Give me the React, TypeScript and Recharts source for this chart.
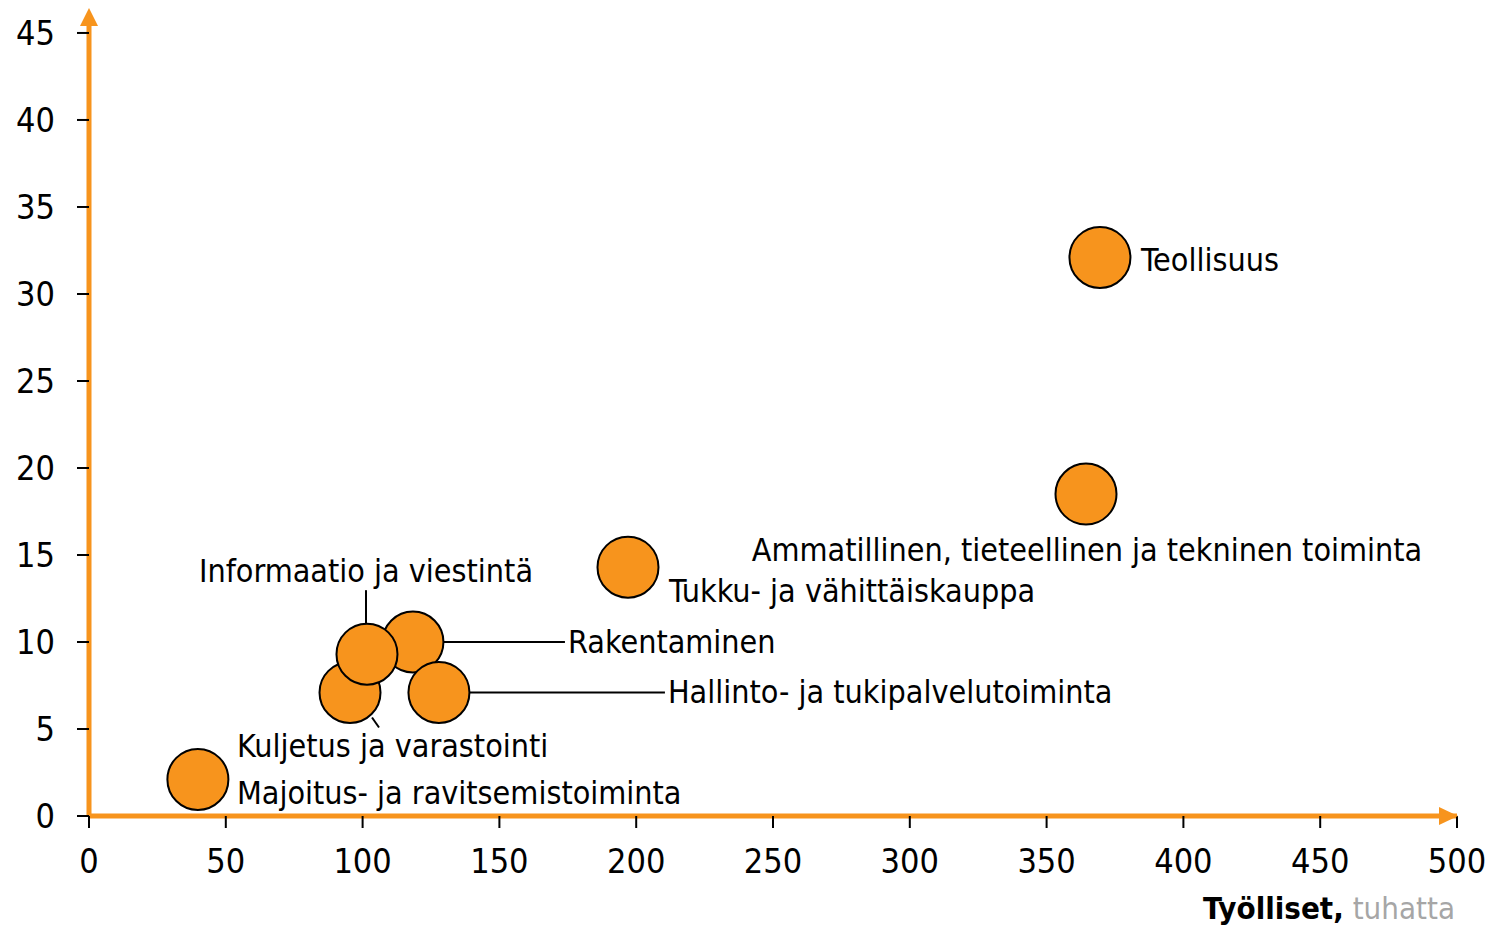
import { ScatterChart, Scatter, XAxis, YAxis, ReferenceDot } from 'recharts';

const FONT = '"DejaVu Sans Condensed", "DejaVu Sans", sans-serif';
const ORANGE = '#F7941D';

// toimialat, piirtojärjestyksessä (päällekkäiset pallot)
const NAMES = [
  'Majoitus- ja ravitsemistoiminta',
  'Kuljetus ja varastointi',
  'Rakentaminen',
  'Hallinto- ja tukipalvelutoiminta',
  'Informaatio ja viestintä',
  'Tukku- ja vähittäiskauppa',
  'Ammatillinen, tieteellinen ja tekninen toiminta',
  'Teollisuus',
];
const EMPLOYED = [39.8, 95.4, 118.4, 127.9, 101.6, 197, 364.4, 369.5];
const SHARE = [2.1, 7.1, 10.0, 7.1, 9.3, 14.3, 18.5, 32.1];

const X_TICKS = [0, 50, 100, 150, 200, 250, 300, 350, 400, 450, 500];
const Y_TICKS = [0, 5, 10, 15, 20, 25, 30, 35, 40, 45];

// label placement relative to bubble centre: dx, dy (baseline), anchor, leader line
type LabelPos = { dx: number; dy: number; anchor: 'start' | 'middle'; line?: [number, number, number, number] };
const LABEL_POS: Record<string, LabelPos> = {
  'Majoitus- ja ravitsemistoiminta': { dx: 39, dy: 25, anchor: 'start' },
  'Kuljetus ja varastointi': { dx: -113, dy: 65, anchor: 'start', line: [22, 25, 29, 35] },
  'Rakentaminen': { dx: 155, dy: 11, anchor: 'start', line: [30, 0, 152, 0] },
  'Hallinto- ja tukipalvelutoiminta': { dx: 229, dy: 11, anchor: 'start', line: [30, 0, 226, 0] },
  'Informaatio ja viestintä': { dx: -1, dy: -72, anchor: 'middle', line: [-1, -30, -1, -64] },
  'Tukku- ja vähittäiskauppa': { dx: 41, dy: 35, anchor: 'start' },
  'Ammatillinen, tieteellinen ja tekninen toiminta': { dx: 1, dy: 67, anchor: 'middle' },
  'Teollisuus': { dx: 41, dy: 14, anchor: 'start' },
};

const data = NAMES.map((name, i) => ({ name, x: EMPLOYED[i], y: SHARE[i] }));

const Bubble = (props: any) => {
  const { cx, cy, payload } = props;
  const pos = LABEL_POS[payload.name];
  return (
    <g>
      {pos.line && (
        <line
          x1={cx + pos.line[0]}
          y1={cy + pos.line[1]}
          x2={cx + pos.line[2]}
          y2={cy + pos.line[3]}
          stroke="#000"
          strokeWidth={2}
        />
      )}
      <circle cx={cx} cy={cy} r={30.5} fill={ORANGE} stroke="#000" strokeWidth={2} />
      <text
        x={cx + pos.dx}
        y={cy + pos.dy}
        textAnchor={pos.anchor}
        fontFamily={FONT}
        fontSize={32}
        fill="#000"
      >
        {payload.name}
      </text>
    </g>
  );
};

const UpArrow = (props: any) => {
  const { cx, cy } = props;
  return <polygon points={`${cx - 9},${cy} ${cx + 9},${cy} ${cx},${cy - 18}`} fill={ORANGE} />;
};

const RightArrow = (props: any) => {
  const { cx, cy } = props;
  return <polygon points={`${cx - 18},${cy - 9} ${cx - 18},${cy + 9} ${cx + 1},${cy}`} fill={ORANGE} />;
};

const AxisTitle = (props: any) => {
  const { viewBox } = props;
  return (
    <text
      x={viewBox.x + viewBox.width - 2}
      y={919}
      textAnchor="end"
      fontFamily={FONT}
      fontSize={31}
    >
      <tspan fontWeight="bold" fill="#000">Työlliset,</tspan>
      <tspan fill="#A6A6A6"> tuhatta</tspan>
    </text>
  );
};

const App = () => {
  return (
    <div style={{ position: 'absolute', left: 0, top: 0, background: '#fff' }}>
      <ScatterChart width={1489} height={926} margin={{ top: 26, right: 32, bottom: 0, left: 0 }}>
        <XAxis
          type="number"
          dataKey="x"
          domain={[0, 500]}
          ticks={X_TICKS}
          interval={0}
          height={110}
          axisLine={{ stroke: ORANGE, strokeWidth: 5 }}
          tickLine={{ stroke: '#000', strokeWidth: 2 }}
          tickSize={12}
          tickMargin={21}
          tick={{ fontSize: 34, fontFamily: FONT, fill: '#000' }}
          label={{ content: <AxisTitle /> }}
        />
        <YAxis
          type="number"
          dataKey="y"
          domain={[0, 45.4]}
          ticks={Y_TICKS}
          interval={0}
          width={89}
          allowDataOverflow
          axisLine={{ stroke: ORANGE, strokeWidth: 5 }}
          tickLine={{ stroke: '#000', strokeWidth: 2 }}
          tickSize={12}
          tickMargin={22}
          tick={{ fontSize: 34, fontFamily: FONT, fill: '#000' }}
        />
        <Scatter data={data} shape={<Bubble />} isAnimationActive={false} />
        <ReferenceDot x={0} y={45.4} shape={<UpArrow />} />
        <ReferenceDot x={500} y={0} shape={<RightArrow />} />
      </ScatterChart>
    </div>
  );
};

export default App;
